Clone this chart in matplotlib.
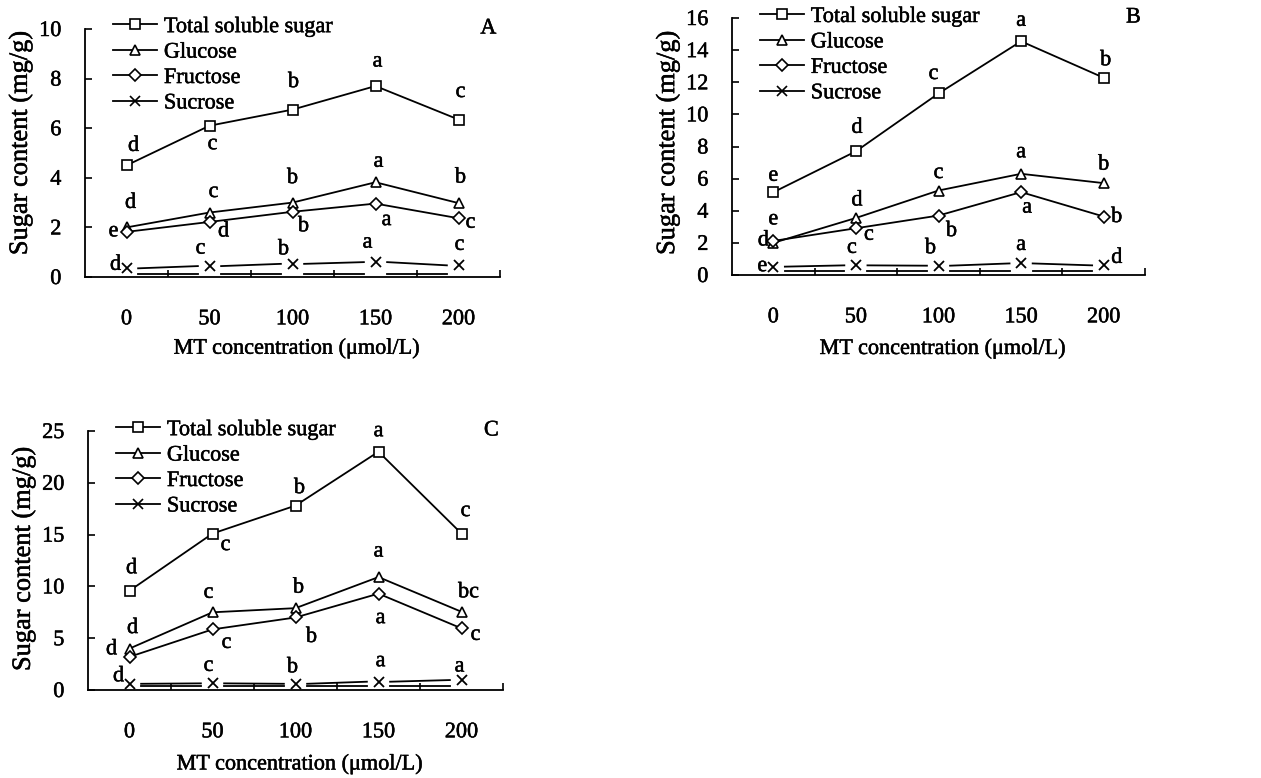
import matplotlib
matplotlib.use('Agg')
import matplotlib.pyplot as plt
import matplotlib.patheffects as pe
from matplotlib.lines import Line2D
from matplotlib.transforms import blended_transform_factory

plt.rcParams['font.family'] = ['Liberation Serif', 'DejaVu Serif']
plt.rcParams['font.size'] = 16

concentrations = ['0', '50', '100', '150', '200']
series_names = ['Total soluble sugar', 'Glucose', 'Fructose', 'Sucrose']

# values (mg/g)
total_A = [4.5, 6.1, 6.75, 7.7, 6.35]
glucose_A = [2.0, 2.6, 3.0, 3.82, 2.98]
fructose_A = [1.82, 2.22, 2.63, 2.96, 2.37]
sucrose_A = [0.35, 0.44, 0.53, 0.6, 0.47]

total_B = [5.15, 7.7, 11.3, 14.55, 12.28]
glucose_B = [2.0, 3.55, 5.26, 6.3, 5.72]
fructose_B = [2.12, 2.91, 3.7, 5.16, 3.64]
sucrose_B = [0.52, 0.6, 0.58, 0.72, 0.6]

total_C = [9.58, 15.1, 17.8, 23.0, 15.1]
glucose_C = [4.0, 7.5, 7.9, 10.9, 7.55]
fructose_C = [3.2, 5.85, 7.0, 9.3, 5.95]
sucrose_C = [0.6, 0.64, 0.6, 0.8, 0.96]

# significance letters
letters_A = [['d', 'c', 'b', 'a', 'c'], ['d', 'c', 'b', 'a', 'b'],
             ['e', 'd', 'b', 'a', 'c'], ['d', 'c', 'b', 'a', 'c']]
letters_B = [['e', 'd', 'c', 'a', 'b'], ['e', 'd', 'c', 'a', 'b'],
             ['d', 'c', 'b', 'a', 'b'], ['e', 'c', 'b', 'a', 'd']]
letters_C = [['d', 'c', 'b', 'a', 'c'], ['d', 'c', 'b', 'a', 'bc'],
             ['d', 'c', 'b', 'a', 'c'], ['d', 'c', 'b', 'a', 'a']]

# letter offsets in pixels (right, up)
offs_A = [[(7, 19), (3, -19), (1, 27), (2, 24), (2, 27)],
          [(4, 24), (4, 20), (0, 24), (3, 20), (2, 25)],
          [(-13, 0), (14, -10), (11, -15), (11, -17), (12, -5)],
          [(-11, 3), (-9, 17), (-9, 14), (-8, 19), (1, 20)]]
offs_B = [[(0, 16), (1, 23), (-5, 19), (0, 20), (2, 17)],
          [(0, 23), (1, 17), (0, 17), (0, 21), (0, 18)],
          [(-10, 0), (13, -7), (13, -16), (6, -16), (13, -1)],
          [(-11, 0), (-4, 17), (-8, 17), (0, 18), (13, 7)]]
offs_C = [[(2, 22), (13, -12), (4, 17), (0, 20), (4, 22)],
          [(3, 20), (-4, 19), (3, 20), (0, 25), (7, 19)],
          [(-18, 7), (14, -14), (16, -20), (2, -25), (14, -7)],
          [(-11, 7), (-4, 17), (-3, 16), (2, 20), (-2, 13)]]

# tag, series, letters, offsets, y max, y step, axes box in pixels, legend top, ylabel centre
panels = [
    ('A', [total_A, glucose_A, fructose_A, sucrose_A], letters_A, offs_A, 10, 2,
     [85, 29, 500, 277], 1.05, 0.54),
    ('B', [total_B, glucose_B, fructose_B, sucrose_B], letters_B, offs_B, 16, 2,
     [732, 18, 1145, 275], 1.045, 0.514),
    ('C', [total_C, glucose_C, fructose_C, sucrose_C], letters_C, offs_C, 25, 5,
     [88, 431, 503, 690], 1.044, 0.506),
]

W, H = 1261, 778
fig = plt.figure(figsize=(W / 100, H / 100), dpi=100)

markers = ['s', '^', 'D', 'x']
msizes = [7, 7, 6.5, 7]
x = list(range(len(concentrations)))
gap = 0.14
# slightly heavier glyphs, like the scanned figure
bold_fx = [pe.withStroke(linewidth=0.35, foreground='black')]

for tag, data, letters, offs, ymax, ystep, box, leg_top, ylab_y in panels:
    l, t, r, b = box
    ax = fig.add_axes([l / W, 1 - b / H, (r - l) / W, (b - t) / H])
    ax.set_xlim(-0.5, 4.5)
    ax.set_ylim(0, ymax)

    for k in range(3):
        ax.plot(x, data[k], color='black', lw=1.3, marker=markers[k],
                ms=msizes[k], mfc='white', mec='black', mew=1.2, zorder=3)

    # sucrose: broken line segments around the markers, doubled near the axis
    suc = data[3]
    base_tr = blended_transform_factory(ax.transData, ax.transAxes)
    for i in range(len(x) - 1):
        ax.plot([x[i] + gap, x[i + 1] - gap], [suc[i], suc[i + 1]],
                color='black', lw=1.3, zorder=3)
        ax.plot([x[i] + gap, x[i + 1] - gap], [0.014, 0.014], color='black',
                lw=1.3, transform=base_tr, zorder=3)
    ax.plot(x, suc, linestyle='none', marker='x', ms=7, mec='black', mew=1.3,
            zorder=3)

    for k in range(4):
        for i in range(len(x)):
            dx, dy = offs[k][i]
            ax.annotate(letters[k][i], (x[i], data[k][i]), xytext=(dx, dy),
                        textcoords='offset pixels', ha='center', va='center',
                        fontsize=16, path_effects=bold_fx)

    for s in ['top', 'right']:
        ax.spines[s].set_visible(False)
    for s in ['left', 'bottom']:
        ax.spines[s].set_linewidth(1.3)

    ax.set_yticks(range(0, ymax + 1, ystep))
    ax.tick_params(axis='y', direction='in', length=5, width=1.2, pad=17,
                   labelsize=16)
    ax.set_xticks(x)
    ax.set_xticklabels(concentrations)
    ax.set_xticks([0.5, 1.5, 2.5, 3.5, 4.5], minor=True)
    ax.tick_params(axis='x', which='major', length=0, pad=24, labelsize=16)
    ax.tick_params(axis='x', which='minor', direction='in', length=5, width=1.2)
    for lab in ax.get_xticklabels() + ax.get_yticklabels():
        lab.set_path_effects(bold_fx)

    ax.set_xlabel('MT concentration (μmol/L)', fontsize=16, path_effects=bold_fx)
    ax.set_ylabel('Sugar content (mg/g)', fontsize=19, path_effects=bold_fx)
    ax.xaxis.set_label_coords(0.51, -0.25)
    ax.yaxis.set_label_coords(-0.127, ylab_y)

    ax.text(0.972, 1.0, tag, transform=ax.transAxes, ha='center', va='center',
            fontsize=16, path_effects=bold_fx)

    handles = [Line2D([], [], color='black', lw=1.3, marker=markers[k],
                      ms=msizes[k], mfc='white', mec='black', mew=1.2)
               for k in range(4)]
    leg = ax.legend(handles, series_names, loc='upper left',
                    bbox_to_anchor=(0.067, leg_top), frameon=False, fontsize=16,
                    handlelength=2.0, handletextpad=0.3, labelspacing=0.22,
                    borderaxespad=0, borderpad=0)
    for txt in leg.get_texts():
        txt.set_path_effects(bold_fx)

fig.savefig('out.png', dpi=100)
